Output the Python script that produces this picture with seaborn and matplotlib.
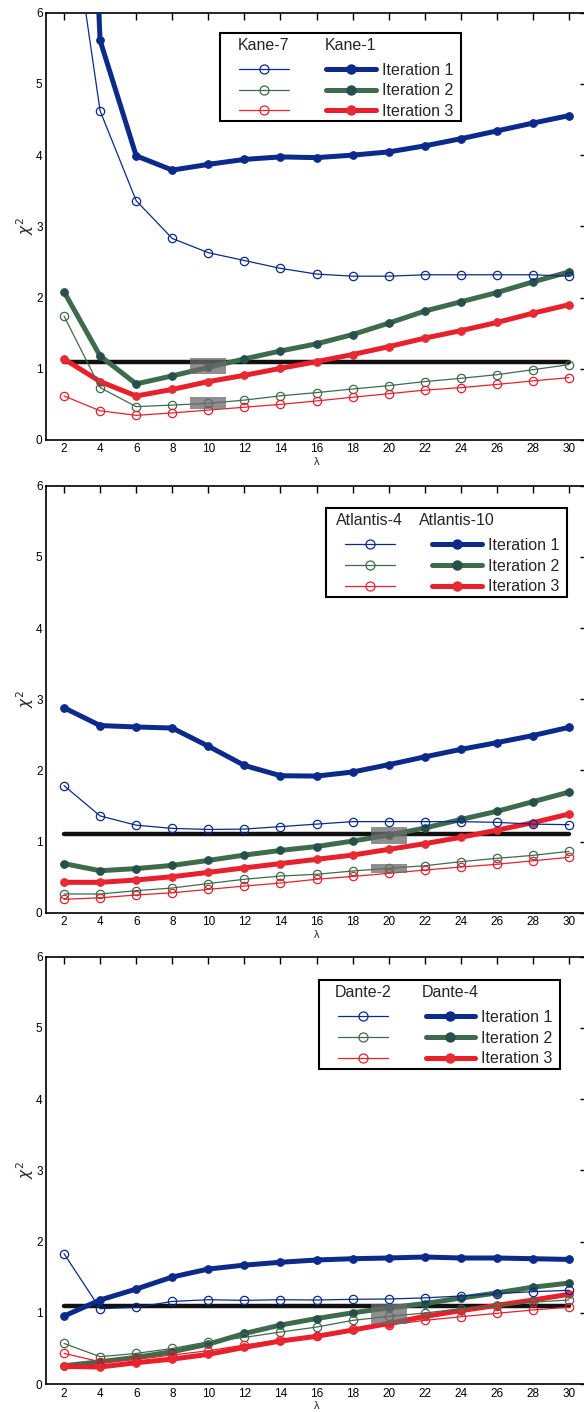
import matplotlib
matplotlib.use("Agg")
import matplotlib.pyplot as plt
import seaborn as sns
from matplotlib.lines import Line2D
from matplotlib.patches import Rectangle

# ---------------- data ----------------
lam = [2, 4, 6, 8, 10, 12, 14, 16, 18, 20, 22, 24, 26, 28, 30]
chi_ref = 1.1
iter_labels = ["Iteration 1", "Iteration 2", "Iteration 3"]

# Panel 1: Kane
kane7_it1 = [8.1, 4.62, 3.36, 2.83, 2.63, 2.52, 2.41, 2.33, 2.30, 2.30, 2.32, 2.32, 2.32, 2.32, 2.30]
kane7_it2 = [1.74, 0.735, 0.468, 0.49, 0.515, 0.56, 0.62, 0.665, 0.716, 0.763, 0.82, 0.866, 0.917, 0.987, 1.058]
kane7_it3 = [0.618, 0.41, 0.346, 0.38, 0.42, 0.46, 0.50, 0.548, 0.60, 0.65, 0.70, 0.735, 0.78, 0.83, 0.875]
kane1_it1 = [16.5, 5.61, 3.99, 3.79, 3.87, 3.94, 3.975, 3.965, 4.0, 4.045, 4.13, 4.23, 4.34, 4.45, 4.555]
kane1_it2 = [2.08, 1.18, 0.787, 0.90, 1.02, 1.138, 1.25, 1.35, 1.48, 1.64, 1.81, 1.94, 2.07, 2.22, 2.36]
kane1_it3 = [1.138, 0.82, 0.618, 0.71, 0.82, 0.908, 1.006, 1.10, 1.20, 1.31, 1.43, 1.535, 1.65, 1.78, 1.90]
kane_box_x = [10, 10]
kane_box_lo = [0.93, 0.43]
kane_box_hi = [1.15, 0.61]

# Panel 2: Atlantis
atl4_it1 = [1.785, 1.36, 1.23, 1.185, 1.17, 1.175, 1.21, 1.245, 1.28, 1.28, 1.28, 1.28, 1.27, 1.245, 1.237]
atl4_it2 = [0.263, 0.263, 0.31, 0.347, 0.41, 0.47, 0.515, 0.54, 0.586, 0.624, 0.66, 0.717, 0.764, 0.806, 0.862]
atl4_it3 = [0.188, 0.21, 0.249, 0.28, 0.328, 0.375, 0.417, 0.47, 0.51, 0.553, 0.60, 0.642, 0.68, 0.73, 0.778]
atl10_it1 = [2.88, 2.63, 2.61, 2.595, 2.34, 2.07, 1.925, 1.92, 1.977, 2.08, 2.19, 2.295, 2.39, 2.49, 2.605]
atl10_it2 = [0.69, 0.59, 0.62, 0.665, 0.735, 0.81, 0.875, 0.93, 1.007, 1.09, 1.19, 1.31, 1.425, 1.56, 1.695]
atl10_it3 = [0.427, 0.427, 0.46, 0.506, 0.567, 0.63, 0.69, 0.75, 0.81, 0.89, 0.97, 1.06, 1.16, 1.265, 1.387]
atl_box_x = [20, 20]
atl_box_lo = [0.965, 0.56]
atl_box_hi = [1.21, 0.685]

# Panel 3: Dante
dan2_it1 = [1.83, 1.058, 1.077, 1.16, 1.184, 1.175, 1.184, 1.18, 1.19, 1.194, 1.21, 1.236, 1.27, 1.297, 1.316]
dan2_it2 = [0.57, 0.384, 0.43, 0.50, 0.594, 0.655, 0.73, 0.80, 0.894, 0.95, 0.997, 1.058, 1.095, 1.15, 1.18]
dan2_it3 = [0.43, 0.313, 0.346, 0.407, 0.468, 0.548, 0.618, 0.678, 0.772, 0.829, 0.894, 0.945, 0.993, 1.04, 1.08]
dan4_it1 = [0.955, 1.18, 1.334, 1.503, 1.615, 1.67, 1.71, 1.742, 1.76, 1.77, 1.784, 1.77, 1.77, 1.76, 1.75]
dan4_it2 = [0.257, 0.313, 0.375, 0.454, 0.56, 0.71, 0.828, 0.92, 1.0, 1.07, 1.13, 1.207, 1.28, 1.36, 1.418]
dan4_it3 = [0.248, 0.239, 0.30, 0.35, 0.417, 0.515, 0.604, 0.67, 0.758, 0.85, 0.95, 1.03, 1.105, 1.18, 1.26]
dan_box_x = [20]
dan_box_lo = [0.85]
dan_box_hi = [1.13]

# ---------------- style ----------------
sns.set_theme(style="white")
plt.rcParams["font.family"] = ["Liberation Sans", "DejaVu Sans"]
plt.rcParams["axes.edgecolor"] = "black"

line_colors = ["#0b2a8a", "#3e6b4c", "#e8202c"]
marker_colors = ["#0b2a8a", "#27504a", "#e82a34"]

panels = [
    dict(thin=[kane7_it1, kane7_it2, kane7_it3], thick=[kane1_it1, kane1_it2, kane1_it3],
         names=("Kane-7", "Kane-1"), bx=kane_box_x, blo=kane_box_lo, bhi=kane_box_hi,
         rect=[0.0788, 0.6884, 0.9264, 0.3026], leg=(0.3567, 0.9314)),
    dict(thin=[atl4_it1, atl4_it2, atl4_it3], thick=[atl10_it1, atl10_it2, atl10_it3],
         names=("Atlantis-4", "Atlantis-10"), bx=atl_box_x, blo=atl_box_lo, bhi=atl_box_hi,
         rect=[0.0788, 0.3536, 0.9264, 0.3024], leg=(0.5527, 0.926)),
    dict(thin=[dan2_it1, dan2_it2, dan2_it3], thick=[dan4_it1, dan4_it2, dan4_it3],
         names=("Dante-2", "Dante-4"), bx=dan_box_x, blo=dan_box_lo, bhi=dan_box_hi,
         rect=[0.0788, 0.0198, 0.9264, 0.3026], leg=(0.5403, 0.9237)),
]

fig = plt.figure(figsize=(5.84, 14.12), dpi=100)
legends = []

for p in panels:
    ax = fig.add_axes(p["rect"])
    # reference chi^2 line
    sns.lineplot(x=[lam[0], lam[-1]], y=[chi_ref, chi_ref], color="#111111", lw=3.2,
                 ax=ax, zorder=1, legend=False)
    # thick series
    for vals, c, mc in zip(p["thick"], line_colors, marker_colors):
        sns.lineplot(x=lam, y=vals, color=c, lw=3.6, marker="o", markersize=5.5,
                     markerfacecolor=mc, markeredgecolor=mc, ax=ax, zorder=3,
                     legend=False, sort=False)
    # thin series
    for vals, c in zip(p["thin"], line_colors):
        sns.lineplot(x=lam, y=vals, color=c, lw=0.9, marker="o", markersize=6.0,
                     markerfacecolor="none", markeredgecolor=c, markeredgewidth=0.9,
                     ax=ax, zorder=4, legend=False, sort=False)
    # grey highlight boxes
    ax.bar(p["bx"], [h - l for h, l in zip(p["bhi"], p["blo"])], bottom=p["blo"],
           width=2, color="#6a6a6a", alpha=0.75, linewidth=0, zorder=5)

    ax.set_xlim(1, 31)
    ax.set_ylim(0, 6)
    ax.set_xticks(lam)
    ax.set_yticks(range(0, 7))
    ax.tick_params(direction="in", top=True, right=True, length=5, width=1,
                   labelsize=8.5, pad=2.5, colors="black")
    for s in ax.spines.values():
        s.set_linewidth(1.2)
        s.set_color("black")
    ax.set_xlabel("λ", fontsize=8, labelpad=1)
    ax.set_ylabel(r"$\chi^2$", fontsize=11, labelpad=0)

    hdr = Line2D([], [], color="none")
    thin_h = [Line2D([], [], color=c, lw=0.9, marker="o", ms=6.5, mfc="none", mec=c, mew=0.9)
              for c in line_colors]
    thick_h = [Line2D([], [], color=c, lw=3.6, marker="o", ms=6.5, mfc=mc, mec=mc)
               for c, mc in zip(line_colors, marker_colors)]
    handles = [hdr] + thin_h + [Line2D([], [], color="none")] + thick_h
    labels = ["", "", "", "", ""] + iter_labels
    leg = ax.legend(handles=handles, labels=labels, ncol=2, loc="upper left",
                    bbox_to_anchor=p["leg"], bbox_transform=ax.transAxes,
                    frameon=False, borderpad=0, borderaxespad=0, fontsize=11.5,
                    handlelength=3.1, handletextpad=0.4, columnspacing=1.96,
                    labelspacing=0.35)
    legends.append((ax, leg, p["names"]))

fig.canvas.draw()
r = fig.canvas.get_renderer()
for ax, leg, names in legends:
    inv = ax.transAxes.inverted()
    bb = leg.get_window_extent(r)
    x0, y0 = inv.transform((bb.x0 - 19, bb.y0 - 2.6))
    x1, y1 = inv.transform((bb.x1 + 7.5, bb.y1 + 9.3))
    ax.add_patch(Rectangle((x0, y0), x1 - x0, y1 - y0, transform=ax.transAxes,
                           facecolor="white", edgecolor="black", lw=1.5,
                           zorder=4.9, clip_on=False))
    for idx, name in zip([0, 4], names):
        hb = leg.legend_handles[idx].get_window_extent(r)
        cx, cy = inv.transform(((hb.x0 + hb.x1) / 2, (hb.y0 + hb.y1) / 2 + 3))
        ax.text(cx, cy, name, transform=ax.transAxes, ha="center", va="center",
                fontsize=11.5, zorder=6)

fig.savefig("out.png", dpi=100)
